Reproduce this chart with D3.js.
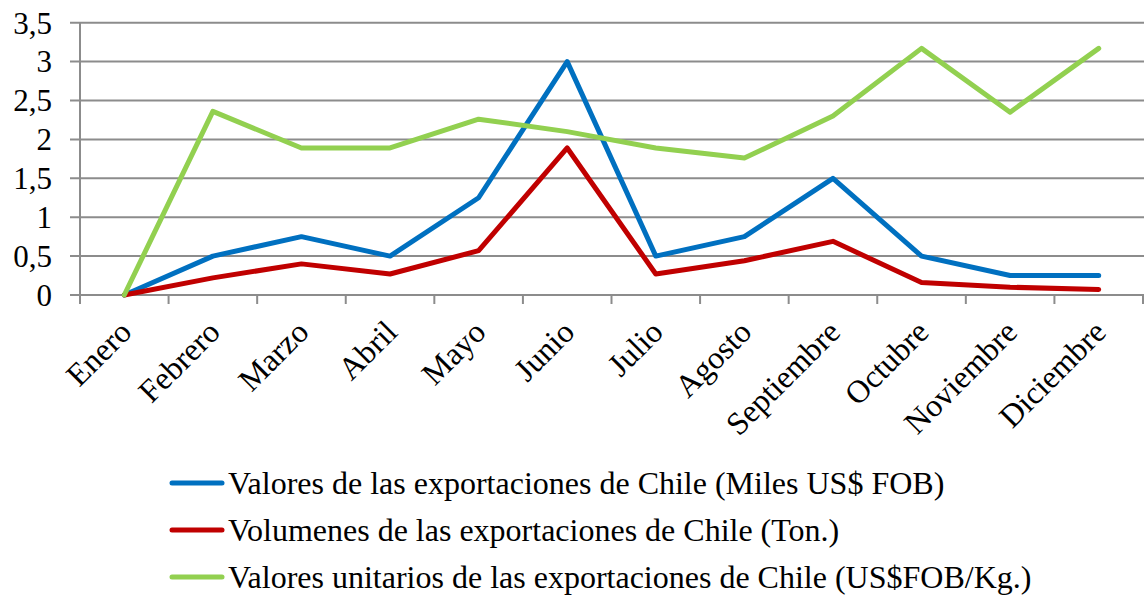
<!DOCTYPE html>
<html><head><meta charset="utf-8">
<script src="https://cdn.jsdelivr.net/npm/d3@7"></script>
<style>body{margin:0;background:#fff}svg{display:block}text{font-family:"Liberation Serif","Times New Roman",serif;fill:#000}</style>
</head><body>
<svg id="c" width="1144" height="597"></svg>
<script>
const months = ["Enero","Febrero","Marzo","Abril","Mayo","Junio","Julio","Agosto","Septiembre","Octubre","Noviembre","Diciembre"];
const valores = [0,0.5,0.75,0.5,1.25,3.0,0.5,0.75,1.5,0.5,0.25,0.25];
const volumenes = [0,0.22,0.4,0.27,0.57,1.89,0.27,0.44,0.69,0.16,0.1,0.07];
const unitarios = [0,2.36,1.89,1.89,2.26,2.1,1.89,1.76,2.3,3.17,2.35,3.17];
const yTicks = [0,0.5,1,1.5,2,2.5,3,3.5];
const seriesNames = ["Valores de las exportaciones de Chile (Miles US$ FOB)","Volumenes de las exportaciones de Chile (Ton.)","Valores unitarios de las exportaciones de Chile (US$FOB/Kg.)"];
const colors = ["#0070C0","#C00000","#92D050"];
const series = [valores, volumenes, unitarios];

const svg = d3.select("#c");
const L = 80, R = 1143, T = 22.7, B = 295;
const x = d3.scaleBand().domain(months).range([L, R]);
const y = d3.scaleLinear().domain([0,3.5]).range([B, T]);
const fmt = d => String(d).replace(".", ",");

svg.append("g").selectAll("line").data(yTicks).join("line")
  .attr("x1", L-10).attr("x2", R+1).attr("y1", d=>y(d)).attr("y2", d=>y(d))
  .attr("stroke","#8c8c8c").attr("stroke-width",2);
svg.append("line").attr("x1",L).attr("x2",L).attr("y1",T).attr("y2",B+9).attr("stroke","#8c8c8c").attr("stroke-width",2);
svg.append("g").selectAll("line").data(d3.range(13)).join("line")
  .attr("x1", i=>L+i*x.bandwidth()).attr("x2", i=>L+i*x.bandwidth())
  .attr("y1", B).attr("y2", B+9).attr("stroke","#8c8c8c").attr("stroke-width",2);
svg.append("g").selectAll("text").data(yTicks).join("text")
  .attr("x", 52).attr("y", d=>y(d)).attr("dy","0.35em").attr("text-anchor","end")
  .attr("font-size",31).text(fmt);
svg.append("g").selectAll("text").data(months).join("text")
  .attr("transform", d=>`translate(${x(d)+x.bandwidth()/2+9},${B+39}) rotate(-45)`)
  .attr("text-anchor","end").attr("font-size",32).text(d=>d);
const line = d3.line().x((d,i)=>x(months[i])+x.bandwidth()/2).y(d=>y(d));
series.forEach((s,k)=>{
  svg.append("path").datum(s).attr("d",line).attr("fill","none")
    .attr("stroke",colors[k]).attr("stroke-width",5).attr("stroke-linejoin","round").attr("stroke-linecap","round");
});
const lg = svg.append("g").selectAll("g").data(seriesNames).join("g")
  .attr("transform",(d,i)=>`translate(0,${483+i*47})`);
lg.append("line").attr("x1",172).attr("x2",222).attr("y1",0).attr("y2",0)
  .attr("stroke",(d,i)=>colors[i]).attr("stroke-width",5).attr("stroke-linecap","round");
lg.append("text").attr("x",228).attr("y",0).attr("dy","0.35em").attr("font-size",32).text(d=>d);
</script>
</body></html>
